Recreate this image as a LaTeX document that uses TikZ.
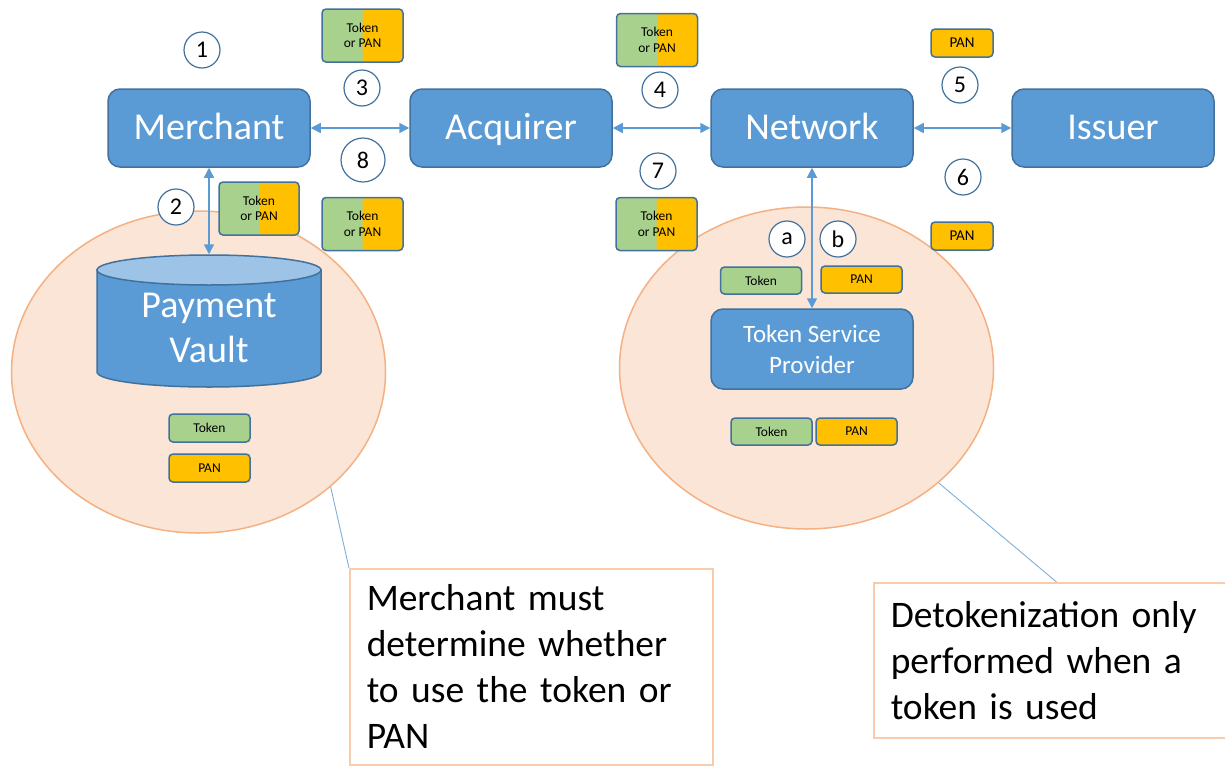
\documentclass[tikz,border=0pt]{standalone}
\usepackage{fontspec}
\setmainfont{Carlito}
\usetikzlibrary{arrows.meta,shapes.geometric}
\definecolor{boxblue}{HTML}{5B9BD5}
\definecolor{edgeblue}{HTML}{41719C}
\definecolor{lidblue}{HTML}{9DC3E6}
\definecolor{tokgreen}{HTML}{A9D18E}
\definecolor{panyellow}{HTML}{FFC000}
\definecolor{zonefill}{HTML}{FBE5D6}
\definecolor{zoneedge}{HTML}{F4B183}
\definecolor{noteedge}{HTML}{F8CBAD}
\begin{document}
\begin{tikzpicture}[x=1pt,y=-1pt,
  party/.style={rectangle, rounded corners=12pt, draw=edgeblue, line width=1.5pt,
    fill=boxblue, text=white, minimum width=202pt, minimum height=78pt, inner sep=0pt,
    font=\fontsize{38}{46}\selectfont},
  oneline/.style={text height=23pt, text depth=0pt},
  numdot/.style={circle, draw=edgeblue, line width=1.2pt, fill=white,
    minimum size=36pt, inner sep=0pt, font=\fontsize{24}{28}\selectfont},
  chip/.style={rectangle, rounded corners=4pt, draw=edgeblue, line width=1.5pt,
    minimum width=81pt, minimum height=27pt, inner sep=0pt,
    font=\fontsize{13.5}{15.5}\selectfont},
  tokchip/.style={chip, fill=tokgreen},
  panchip/.style={chip, fill=panyellow},
  eitherchip/.style={chip, fill=tokgreen, minimum height=53pt, align=center,
    path picture={\fill[panyellow] (path picture bounding box.north)
      rectangle (path picture bounding box.south east);}},
  link/.style={draw=boxblue, line width=1.5pt,
    {Triangle[length=10pt,width=10pt]}-{Triangle[length=10pt,width=10pt]}},
  zone/.style={ellipse, draw=zoneedge, fill=zonefill, line width=1.5pt,
    minimum width=374pt, minimum height=322pt, inner sep=0pt},
  note/.style={rectangle, draw=noteedge, line width=1.5pt, fill=white,
    anchor=north west, align=left, inner xsep=17pt,
    font=\fontsize{37.5}{46}\selectfont},
  leader/.style={draw=boxblue!80, line width=0.9pt}]
\useasboundingbox (0,0) rectangle (1225,766);

% shaded zones
\node[zone] (lzone) at (198.5,372) {};
\node[zone] (rzone) at (806.5,368) {};

% parties
\node[party, oneline] (merchant) at (209,128) {Merchant};
\node[party, oneline] (acquirer) at (511,128) {Acquirer};
\node[party, oneline] (network) at (812,128) {Network};
\node[party, oneline] (issuer) at (1113,128) {Issuer};
\node[party, minimum height=80pt, align=center,
  font=\fontsize{25}{31}\selectfont] (tsp) at (812,349) {Token Service\\Provider};

% payment vault cylinder
\path[fill=boxblue, draw=edgeblue, line width=1.5pt]
  (97,270) -- (97,372)
  .. controls (97,380.28) and (147.1,387) .. (209,387)
  .. controls (270.9,387) and (321,380.28) .. (321,372)
  -- (321,270) -- cycle;
\node[ellipse, draw=edgeblue, fill=lidblue, line width=1.5pt,
  minimum width=224pt, minimum height=30pt, inner sep=0pt] (vaultlid) at (209,270) {};
\node[text=white, align=center, font=\fontsize{38}{45}\selectfont]
  (vault) at (209,328) {Payment\\Vault};

% message flows
\draw[link] (merchant) -- (acquirer);
\draw[link] (acquirer) -- (network);
\draw[link] (network) -- (issuer);
\draw[link] (merchant) -- (vaultlid);
\draw[link] (network) -- (tsp);

% step numbers
\node[numdot] (c1) at (202,50) {1};
\node[numdot] (c2) at (176,207) {2};
\node[numdot] (c3) at (362,88) {3};
\node[numdot, minimum size=44pt] (c8) at (363,160) {8};
\node[numdot] (c4) at (660,90) {4};
\node[numdot] (c7) at (658,171) {7};
\node[numdot] (c5) at (960,85) {5};
\node[numdot] (c6) at (963,177) {6};
\node[numdot] (ca) at (787,239) {a};
\node[numdot] (cb) at (838,239) {b};

% data carried
\node[eitherchip] (tp3) at (362.5,35.5) {Token\\or PAN};
\node[eitherchip, minimum width=80pt] (tp2) at (259,208.5) {Token\\or PAN};
\node[eitherchip] (tp8) at (362.5,224) {Token\\or PAN};
\node[eitherchip] (tp4) at (657,40) {Token\\or PAN};
\node[eitherchip] (tp7) at (656.5,224) {Token\\or PAN};
\node[panchip, minimum width=62pt, minimum height=28pt,
  font=\fontsize{15}{17}\selectfont] (pan5) at (962,43) {PAN};
\node[panchip, minimum width=62pt, minimum height=28pt,
  font=\fontsize{15}{17}\selectfont] (pan6) at (962,236) {PAN};
\node[tokchip] (toka) at (761,280.5) {Token};
\node[panchip] (panb) at (861.5,279.5) {PAN};
\node[tokchip] (tokt) at (771.5,431.5) {Token};
\node[panchip] (pant) at (856.5,431.5) {PAN};
\node[tokchip, minimum height=28pt] (tokv) at (209.5,428) {Token};
\node[panchip, minimum height=28pt] (panv) at (209.5,468) {PAN};

% callouts
\draw[leader] (lzone.-41) -- (349,568);
\draw[leader] (rzone.-41) -- (1056.5,582);
\node[note, text width=329pt, inner ysep=16pt] (lnote) at (349,568)
  {Merchant must\\determine whether\\to use the token or\\PAN};
\node[note, text width=333pt, minimum height=155pt] (rnote) at (873,582)
  {Detokenization only\\performed when a\\token is used};
\end{tikzpicture}
\end{document}
